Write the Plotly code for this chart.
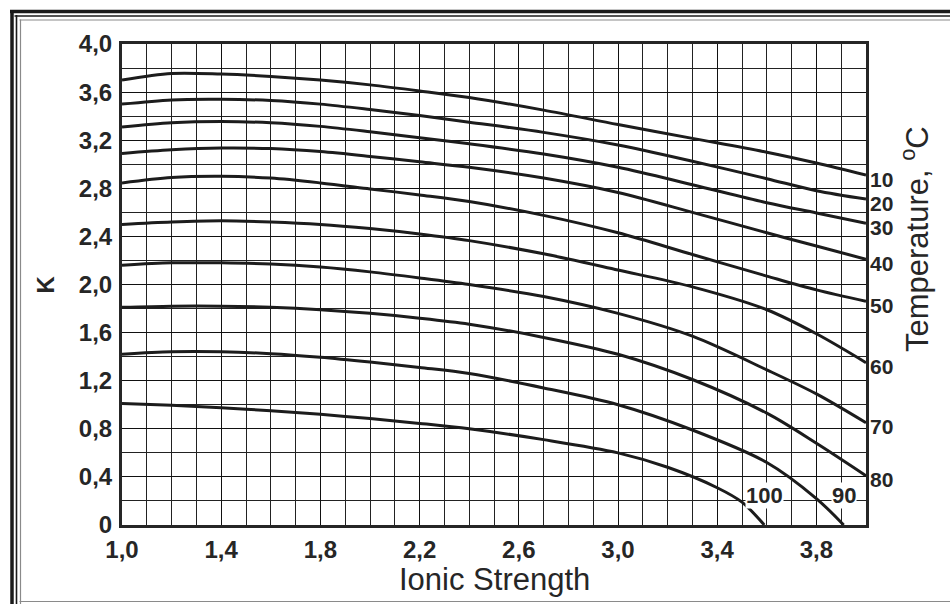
import plotly.graph_objects as go

# Equilibrium constant K versus ionic strength, one curve per temperature (°C)
temps = [10, 20, 30, 40, 50, 60, 70, 80, 90, 100]

ionic = [1.0, 1.2, 1.4, 1.6, 1.8, 2.0, 2.2, 2.4, 2.7, 3.0, 3.3, 3.6, 3.8, 4.0]
ionic_90 = [1.0, 1.2, 1.4, 1.6, 1.8, 2.0, 2.2, 2.4, 2.7, 3.0, 3.3, 3.6, 3.8, 3.91]
ionic_100 = [1.0, 1.2, 1.4, 1.6, 1.8, 2.0, 2.2, 2.4, 2.7, 3.0, 3.2, 3.4, 3.5, 3.59]

k_10 = [3.70, 3.755, 3.75, 3.73, 3.70, 3.66, 3.61, 3.555, 3.45, 3.33, 3.215, 3.10, 3.01, 2.91]
k_20 = [3.50, 3.535, 3.54, 3.53, 3.50, 3.455, 3.405, 3.35, 3.265, 3.16, 3.025, 2.88, 2.78, 2.71]
k_30 = [3.31, 3.345, 3.355, 3.345, 3.315, 3.27, 3.22, 3.17, 3.085, 2.975, 2.83, 2.68, 2.595, 2.51]
k_40 = [3.09, 3.12, 3.135, 3.13, 3.105, 3.065, 3.02, 2.975, 2.885, 2.765, 2.60, 2.43, 2.32, 2.21]
k_50 = [2.845, 2.89, 2.90, 2.885, 2.845, 2.795, 2.745, 2.69, 2.575, 2.43, 2.25, 2.07, 1.955, 1.86]
k_60 = [2.50, 2.52, 2.53, 2.52, 2.50, 2.465, 2.42, 2.365, 2.255, 2.12, 1.98, 1.79, 1.59, 1.35]
k_70 = [2.16, 2.18, 2.18, 2.17, 2.145, 2.105, 2.055, 2.00, 1.90, 1.76, 1.57, 1.29, 1.09, 0.85]
k_80 = [1.81, 1.82, 1.82, 1.81, 1.79, 1.76, 1.72, 1.67, 1.56, 1.42, 1.21, 0.93, 0.68, 0.41]
k_90 = [1.42, 1.44, 1.44, 1.425, 1.395, 1.355, 1.31, 1.26, 1.14, 1.00, 0.79, 0.52, 0.22, 0.0]
k_100 = [1.01, 0.995, 0.975, 0.95, 0.92, 0.885, 0.845, 0.80, 0.71, 0.60, 0.48, 0.31, 0.19, 0.0]

x_tick_vals = [1.0, 1.4, 1.8, 2.2, 2.6, 3.0, 3.4, 3.8]
x_tick_text = ["1,0", "1,4", "1,8", "2,2", "2,6", "3,0", "3,4", "3,8"]
y_tick_vals = [0, 0.4, 0.8, 1.2, 1.6, 2.0, 2.4, 2.8, 3.2, 3.6, 4.0]
y_tick_text = ["0", "0,4", "0,8", "1,2", "1,6", "2,0", "2,4", "2,8", "3,2", "3,6", "4,0"]

series = [
    (ionic, k_10), (ionic, k_20), (ionic, k_30), (ionic, k_40), (ionic, k_50),
    (ionic, k_60), (ionic, k_70), (ionic, k_80), (ionic_90, k_90), (ionic_100, k_100),
]

W, H = 950, 604
L, R, T, B = 122, 84, 44, 79
PW, PH = W - L - R, H - T - B

def px(xp):
    return (xp - L) / PW

def py(yp):
    return (H - B - yp) / PH

INK = "#1c1c1c"
TEXT = "#262626"
FONT = "Liberation Sans, Arial, sans-serif"

fig = go.Figure()
for (xs, ks), t in zip(series, temps):
    fig.add_trace(go.Scatter(
        x=xs, y=ks, mode="lines", name=f"{t} °C",
        line=dict(color=INK, width=3, shape="spline", smoothing=0.9),
        hoverinfo="x+y+name",
    ))

annotations = []
# temperature labels at the end of each curve
for (xs, ks), t in zip(series, temps):
    if ks[-1] > 0:
        annotations.append(dict(
            x=xs[-1], y=ks[-1], xref="x", yref="y", text=f"<b>{t}</b>",
            showarrow=False, xanchor="left", yanchor="middle", xshift=2, yshift=-4,
            font=dict(family=FONT, size=21, color=TEXT),
        ))
    else:
        annotations.append(dict(
            x=xs[-1], y=ks[-1], xref="x", yref="y", text=f"<b>{t}</b>",
            showarrow=False, xanchor="center", yanchor="middle", yshift=30,
            bgcolor="white", borderpad=0,
            font=dict(family=FONT, size=22, color=TEXT),
        ))

annotations += [
    dict(x=px(45), y=0.5, xref="paper", yref="paper", text="<b>K</b>", textangle=-90,
         xanchor="center", yanchor="middle",
         showarrow=False, font=dict(family=FONT, size=24, color=TEXT)),
    dict(x=0.5, y=py(579), xref="paper", yref="paper", text="Ionic Strength",
         xanchor="center", yanchor="middle",
         showarrow=False, font=dict(family=FONT, size=31, color=TEXT)),
    dict(x=px(915), y=py(239), xref="paper", yref="paper",
         text="Temperature, <sup>o</sup>C", textangle=-90,
         xanchor="center", yanchor="middle",
         showarrow=False, font=dict(family=FONT, size=31, color=TEXT)),
]

# double frame around the figure
shapes = []
def hline(yp, w, color, x0p):
    shapes.append(dict(type="line", xref="paper", yref="paper",
                       x0=px(x0p), x1=px(W + 5), y0=py(yp), y1=py(yp),
                       line=dict(color=color, width=w)))

def vline(xp, w, color, y0p):
    shapes.append(dict(type="line", xref="paper", yref="paper",
                       x0=px(xp), x1=px(xp), y0=py(y0p), y1=py(H + 5),
                       line=dict(color=color, width=w)))

hline(11.5, 3.5, "#1a1a1a", 10)
hline(16, 1.6, "#1a1a1a", 14.5)
hline(20, 1.2, "#8a8a8a", 19.5)
hline(601.5, 1.2, "#8a8a8a", 19.5)
vline(12, 3.5, "#1a1a1a", 10)
vline(16.5, 1.6, "#1a1a1a", 15)
vline(20.5, 1.2, "#8a8a8a", 19.5)

fig.update_layout(
    width=W, height=H,
    margin=dict(l=L, r=R, t=T, b=B),
    paper_bgcolor="white", plot_bgcolor="white",
    showlegend=False,
    annotations=annotations,
    shapes=shapes,
    font=dict(family=FONT, color=TEXT),
    xaxis=dict(
        range=[1.0, 4.0], tickvals=x_tick_vals, ticktext=x_tick_text,
        ticks="", ticklabelstandoff=1,
        tickfont=dict(family=FONT, size=24, color=TEXT, weight="bold"),
        showgrid=True, gridcolor="#111111", gridwidth=1.4,
        minor=dict(dtick=0.1, tick0=1.0, showgrid=True, gridcolor="#222222", gridwidth=1.3),
        showline=True, mirror=True, linecolor="#262626", linewidth=3,
        zeroline=False,
    ),
    yaxis=dict(
        range=[0, 4.0], tickvals=y_tick_vals, ticktext=y_tick_text,
        ticks="", ticklabelstandoff=2,
        tickfont=dict(family=FONT, size=24, color=TEXT, weight="bold"),
        showgrid=True, gridcolor="#111111", gridwidth=1.4,
        minor=dict(dtick=0.2, tick0=0, showgrid=True, gridcolor="#222222", gridwidth=1.3),
        showline=True, mirror=True, linecolor="#262626", linewidth=3,
        zeroline=False,
    ),
)

fig.write_html("out.html")
